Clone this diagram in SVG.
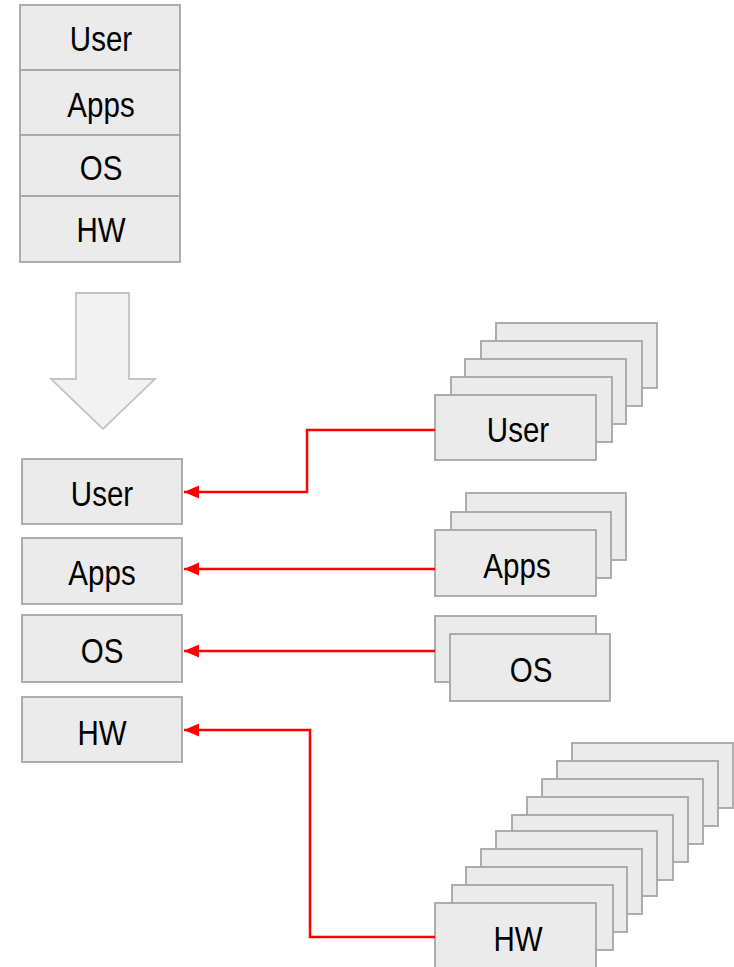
<svg xmlns="http://www.w3.org/2000/svg" width="734" height="967" viewBox="0 0 734 967">
<style>
.b{fill:#ebebeb;stroke:#a6a6a6;stroke-width:1.8}
.t{font-family:"Liberation Sans",Arial,sans-serif;font-size:36px;fill:#000;text-anchor:middle}
.c{fill:none;stroke:#ff0000;stroke-width:2.5}
</style>
<defs>
<marker id="ah" markerUnits="userSpaceOnUse" markerWidth="16" markerHeight="14" refX="15" refY="7" orient="auto" viewBox="0 0 16 14">
<path d="M0,0.5 L15,7 L0,13.5 Z" fill="#ff0000"/>
</marker>
</defs>
<rect width="734" height="967" fill="#fff"/>
<g id="top-stack">
<rect class="b" x="20" y="5" width="160" height="65"/>
<rect class="b" x="20" y="70" width="160" height="65"/>
<rect class="b" x="20" y="135" width="160" height="61"/>
<rect class="b" x="20" y="196" width="160" height="66"/>
<text class="t" transform="translate(101,51) scale(0.82,1)">User</text>
<text class="t" transform="translate(101,117) scale(0.82,1)">Apps</text>
<text class="t" transform="translate(101,180) scale(0.82,1)">OS</text>
<text class="t" transform="translate(101,242) scale(0.82,1)">HW</text>
</g>
<g id="down-arrow">
<path d="M76,293 L129,293 L129,379 L155,379 L103,429 L51,379 L76,379 Z" fill="#f2f2f2" stroke="#c4c4c4" stroke-width="1.8"/>
</g>
<g id="user-left"><rect class="b" x="22" y="459" width="160" height="65"/><text class="t" transform="translate(102,506) scale(0.82,1)">User</text></g>
<g id="apps-left"><rect class="b" x="22" y="538" width="160" height="66"/><text class="t" transform="translate(102,585) scale(0.82,1)">Apps</text></g>
<g id="os-left"><rect class="b" x="22" y="615" width="160" height="67"/><text class="t" transform="translate(102,663) scale(0.82,1)">OS</text></g>
<g id="hw-left"><rect class="b" x="22" y="697" width="160" height="65"/><text class="t" transform="translate(102,745) scale(0.82,1)">HW</text></g>
<g id="user-stack">
<rect class="b" x="496" y="323" width="161" height="65"/>
<rect class="b" x="481" y="341" width="161" height="65"/>
<rect class="b" x="465" y="359" width="161" height="65"/>
<rect class="b" x="451" y="377" width="161" height="65"/>
<rect class="b" x="435" y="395" width="161" height="65"/>
<text class="t" transform="translate(518,442) scale(0.82,1)">User</text>
</g>
<g id="apps-stack">
<rect class="b" x="466" y="493" width="160" height="67"/>
<rect class="b" x="451" y="512" width="160" height="66"/>
<rect class="b" x="435" y="530" width="161" height="66"/>
<text class="t" transform="translate(517,578) scale(0.82,1)">Apps</text>
</g>
<g id="os-stack">
<rect class="b" x="435" y="616" width="161" height="66"/>
<rect class="b" x="450" y="634" width="160" height="67"/>
<text class="t" transform="translate(531,682) scale(0.82,1)">OS</text>
</g>
<g id="hw-stack">
<rect class="b" x="572" y="743" width="161" height="65"/>
<rect class="b" x="557" y="761" width="161" height="65"/>
<rect class="b" x="542" y="779" width="161" height="65"/>
<rect class="b" x="527" y="797" width="161" height="65"/>
<rect class="b" x="512" y="815" width="161" height="65"/>
<rect class="b" x="496" y="831" width="161" height="65"/>
<rect class="b" x="481" y="849" width="161" height="65"/>
<rect class="b" x="466" y="867" width="161" height="65"/>
<rect class="b" x="452" y="885" width="161" height="65"/>
<rect class="b" x="435" y="903" width="161" height="65"/>
<text class="t" transform="translate(518,951) scale(0.82,1)">HW</text>
</g>
<g id="connectors">
<path class="c" d="M435,430 L307,430 L307,492 L184,492" marker-end="url(#ah)"/>
<path class="c" d="M435,569 L184,569" marker-end="url(#ah)"/>
<path class="c" d="M435,651 L184,651" marker-end="url(#ah)"/>
<path class="c" d="M435,937 L310,937 L310,730 L184,730" marker-end="url(#ah)"/>
</g>
</svg>
